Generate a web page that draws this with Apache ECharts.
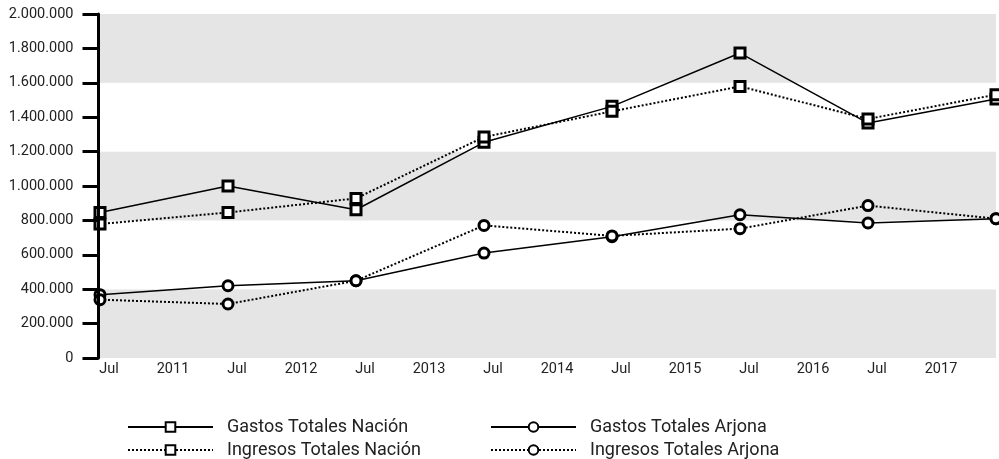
<!DOCTYPE html>
<html>
<head>
<meta charset="utf-8">
<script src="https://cdn.jsdelivr.net/npm/echarts@6/dist/echarts.min.js"></script>
<style>
  html, body { margin: 0; padding: 0; background: #fff; }
  #chart { width: 999px; height: 459px; }
</style>
</head>
<body>
<div id="chart"></div>
<script>
// años (punto a mitad de año, Jul)
var years = [2010, 2011, 2012, 2013, 2014, 2015, 2016, 2017]

var gastosNacion = [846000, 1000000, 862000, 1254000, 1463000, 1773000, 1366000, 1506000]
var ingresosNacion = [779000, 846000, 928000, 1285000, 1434000, 1579000, 1390000, 1531000]
var gastosArjona = [368000, 420000, 449000, 610000, 705000, 833000, 785000, 810000]
var ingresosArjona = [339000, 314000, 449000, 771000, 710000, 752000, 886000, 810000]

var seriesNames = ['Gastos Totales Nación', 'Ingresos Totales Nación', 'Gastos Totales Arjona', 'Ingresos Totales Arjona']

var font = 'Roboto'

function pares(vals) {
    return vals.map(function (v, i) { return [years[i] + 0.5, v] })
}

function miles(v) {
    return String(v).replace(/\B(?=(\d{3})+(?!\d))/g, '.')
}

function linea(name, vals, symbol, dotted) {
    return {
        name: name,
        type: 'line',
        data: pares(vals),
        symbol: symbol,
        symbolSize: 10,
        showAllSymbol: true,
        z: 3,
        lineStyle: {
            color: '#000',
            width: dotted ? 2 : 1.5,
            type: dotted ? [2, 2] : 'solid'
        },
        itemStyle: {
            color: '#fff',
            borderColor: '#000',
            borderWidth: 3
        },
        emphasis: { disabled: true }
    }
}

function leyenda(left, names) {
    return {
        orient: 'vertical',
        left: left,
        top: 413,
        height: 100,
        itemWidth: 85,
        itemHeight: 12,
        itemGap: 5,
        data: names,
        textStyle: { fontFamily: font, fontSize: 18, color: '#222', padding: [0, 0, 0, 9] }
    }
}

var chart = echarts.init(document.getElementById('chart'))

var option = {
    animation: false,
    textStyle: { fontFamily: font },
    grid: { left: 100, right: 3, top: 14, bottom: 101 },
    legend: [
        leyenda(122, [seriesNames[0], seriesNames[1]]),
        leyenda(485, [seriesNames[2], seriesNames[3]])
    ],
    xAxis: {
        type: 'value',
        min: 2010.5,
        max: 2017.5,
        interval: 0.5,
        axisLine: { show: false },
        axisTick: { show: false },
        splitLine: { show: false },
        axisLabel: {
            showMaxLabel: false,
            margin: 4,
            fontFamily: font,
            fontSize: 14.5,
            color: '#222',
            padding: [0, 0, 0, 18],
            formatter: function (v) {
                return Math.abs(v - Math.round(v)) < 1e-6 ? String(Math.round(v)) : 'Jul'
            }
        }
    },
    yAxis: [{
        type: 'value',
        min: 0,
        max: 2000000,
        interval: 200000,
        offset: 1.5,
        axisLine: { show: true, lineStyle: { color: '#000', width: 3 } },
        axisTick: { show: true, length: 16, lineStyle: { color: '#000', width: 3 } },
        splitLine: { show: false },
        axisLabel: {
            margin: 25,
            fontFamily: font,
            fontSize: 14.5,
            color: '#222',
            formatter: miles
        },
        z: 4
    }, {
        type: 'value',
        min: 0,
        max: 2000000,
        interval: 400000,
        position: 'left',
        axisLine: { show: false },
        axisTick: { show: false },
        axisLabel: { show: false },
        splitLine: { show: false },
        splitArea: { show: true, areaStyle: { color: ['#e5e5e5', '#ffffff'] } }
    }],
    series: [
        linea(seriesNames[0], gastosNacion, 'rect', false),
        linea(seriesNames[1], ingresosNacion, 'rect', true),
        linea(seriesNames[2], gastosArjona, 'circle', false),
        linea(seriesNames[3], ingresosArjona, 'circle', true)
    ]
}

chart.setOption(option)
</script>
</body>
</html>
